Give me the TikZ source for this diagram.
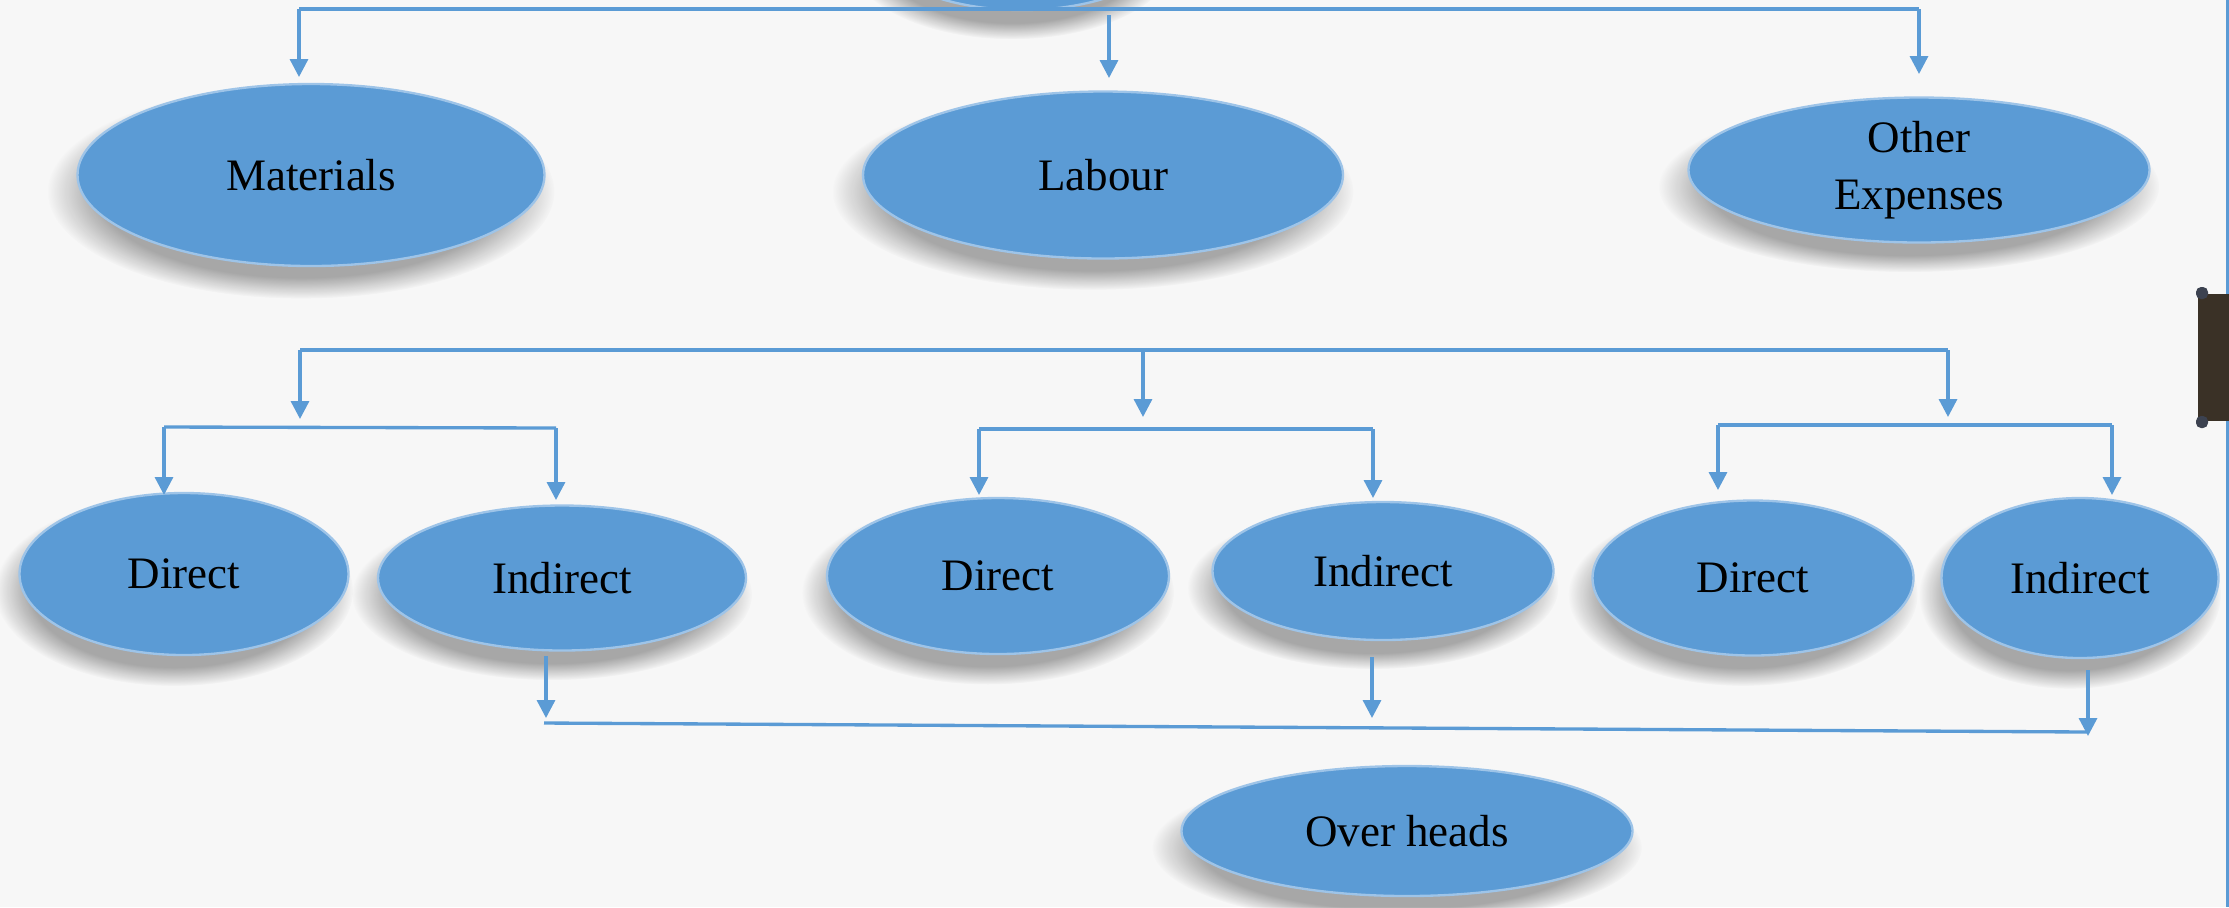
\documentclass[tikz,border=0pt]{standalone}
\usepackage{fontspec}
\setmainfont{Liberation Serif}
\usetikzlibrary{shapes.geometric,arrows.meta,calc,fadings}
\definecolor{bubblefill}{HTML}{5B9BD5}
\definecolor{wirecol}{HTML}{5B9BD5}
\definecolor{paper}{HTML}{F7F7F7}
\definecolor{rimcol}{HTML}{9EC4E8}
\definecolor{framecol}{HTML}{3A3126}
\definecolor{knobcol}{HTML}{3C4250}
\pgfdeclarelayer{paperlayer}
\pgfdeclarelayer{shadelayer}
\pgfsetlayers{paperlayer,shadelayer,main}

\begin{document}
\begin{tikzpicture}[x=0.3pt,y=-0.3pt,
  bubble/.style={ellipse, fill=bubblefill, draw=rimcol, line width=0.7pt,
    inner sep=0pt, align=center, font=\fontsize{13.5}{17}\selectfont},
  size/.style 2 args={minimum width=#1*0.3pt, minimum height=#2*0.3pt},
  wire/.style={draw=wirecol, line width=1pt},
  arr/.style={wire, -{Triangle[width=5.4pt,length=5.4pt]}},
  softshadow/.style={fill=black, fill opacity=0.32,
    path fading=circle with fuzzy edge 20 percent}]

% page and background
\clip (0,0) rectangle (2229,907);
\useasboundingbox (0,0) rectangle (2229,907);
\begin{pgfonlayer}{paperlayer}
\fill[paper] (0,0) rectangle (2229,907);
\end{pgfonlayer}

% ellipses
\node[bubble, size={300}{140}] (root) at (1022,-60) {};
\node[bubble, size={467}{182}] (mat) at (311,175) {Materials};
\node[bubble, size={480}{167}] (lab) at (1103,175) {Labour};
\node[bubble, size={461}{145}] (oth) at (1919,170) {Other\\Expenses};

\node[bubble, size={329}{162}] (d1) at (184,574) {Direct};
\node[bubble, size={368}{145}] (i1) at (562,578) {Indirect};
\node[bubble, size={342}{156}] (d2) at (998,576) {Direct};
\node[bubble, size={341}{138}] (i2) at (1383,571) {Indirect};
\node[bubble, size={321}{155}] (d3) at (1753,578) {Direct};
\node[bubble, size={277}{160}] (i3) at (2080,578) {Indirect};

\node[bubble, size={451}{130}] (oh) at (1407,831) {Over heads};

% soft drop shadows under the ellipses
\begin{pgfonlayer}{shadelayer}
\foreach \nd in {root,mat,lab,oth,d1,i1,d2,i2,d3,i3,oh}{
  \fill[softshadow]
    let \p1=($(\nd.east)-(\nd.west)$), \p2=($(\nd.north)-(\nd.south)$) in
    ([shift={(-3pt,-5pt)}]\nd.center) ellipse [x radius=0.54*\x1, y radius=0.58*\y2];
}
\end{pgfonlayer}

% first level split
\coordinate (t1) at (299,9);
\coordinate (t2) at (1109,15);
\coordinate (t3) at (1919,9);
\draw[wire] (t1) -- (t3);
\coordinate (m1) at (299,77);
\coordinate (l1) at (1109,78);
\coordinate (o1) at (1919,74);
\draw[arr] (t1) -- (m1);
\draw[arr] (t2) -- (l1);
\draw[arr] (t3) -- (o1);

% second level split
\coordinate (s1) at (300,350);
\coordinate (s2) at (1143,351);
\coordinate (s3) at (1948,350);
\draw[wire] (s1) -- (s3);
\coordinate (g1) at (300,419);
\coordinate (g2) at (1143,417);
\coordinate (g3) at (1948,417);
\draw[arr] (s1) -- (g1);
\draw[arr] (s2) -- (g2);
\draw[arr] (s3) -- (g3);

% direct / indirect branches
\coordinate (a1) at (164,427);
\coordinate (a2) at (556,428);
\draw[wire] (a1) -- (a2);
\coordinate (a1e) at (164,495);
\coordinate (a2e) at (556,500);
\draw[arr] (a1) -- (a1e);
\draw[arr] (a2) -- (a2e);

\coordinate (b1) at (979,429);
\coordinate (b2) at (1373,429);
\draw[wire] (b1) -- (b2);
\coordinate (b1e) at (979,495);
\coordinate (b2e) at (1373,498);
\draw[arr] (b1) -- (b1e);
\draw[arr] (b2) -- (b2e);

\coordinate (c1) at (1718,425);
\coordinate (c2) at (2112,425);
\draw[wire] (c1) -- (c2);
\coordinate (c1e) at (1718,490);
\coordinate (c2e) at (2112,495);
\draw[arr] (c1) -- (c1e);
\draw[arr] (c2) -- (c2e);

% indirect costs gathered into overheads
\coordinate (u1) at (546,656);
\coordinate (u2) at (1372,657);
\coordinate (u3) at (2088,670);
\coordinate (u1e) at (546,718);
\coordinate (u2e) at (1372,718);
\coordinate (u3e) at (2088,736);
\draw[arr] (u1) -- (u1e);
\draw[arr] (u2) -- (u2e);
\draw[arr] (u3) -- (u3e);
\coordinate (bl) at (544,723);
\coordinate (br) at (2087,732);
\draw[wire] (bl) -- (br);

% right edge frame
\draw[draw=wirecol, line width=0.9pt] (2227.5,0) -- (2227.5,907);
\fill[framecol] (2198,294) rectangle (2229,421);
\fill[knobcol, rounded corners=1.5pt] (2196,287) rectangle (2208,299);
\fill[knobcol, rounded corners=1.5pt] (2196,416) rectangle (2208,428);
\end{tikzpicture}
\end{document}
